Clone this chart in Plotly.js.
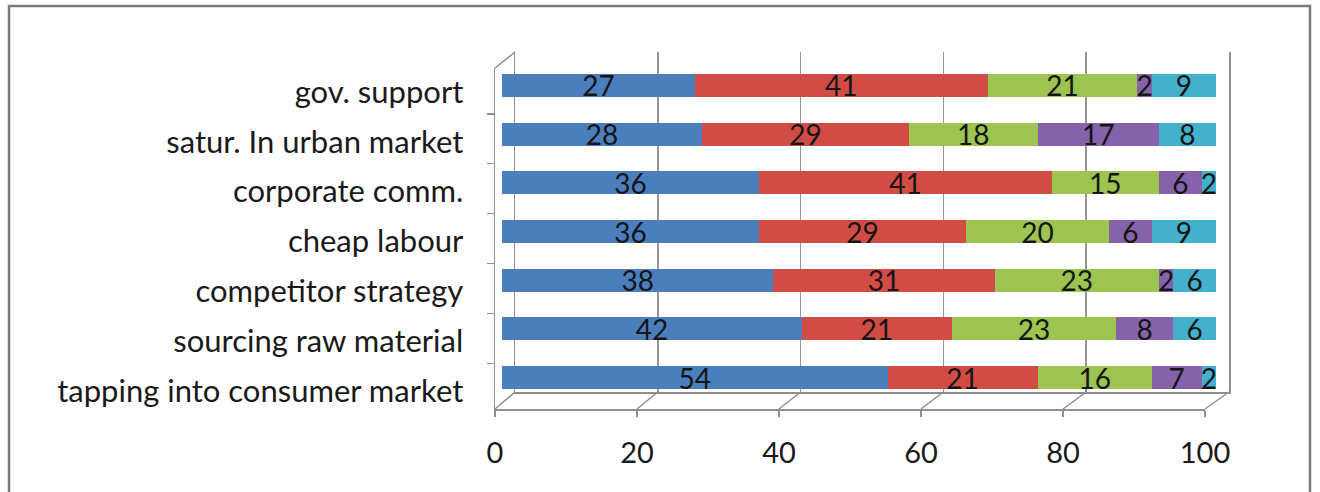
<!DOCTYPE html>
<html>
<head>
<meta charset="utf-8">
<script src="https://cdn.plot.ly/plotly-3.0.1.min.js"></script>
<style>html,body{margin:0;padding:0;background:#fff;}#chart{width:1320px;height:492px;}</style>
</head>
<body>
<div id="chart"></div>
<script>
// ---- data ----
const categories = ["gov. support", "satur. In urban market", "corporate comm.", "cheap labour",
  "competitor strategy", "sourcing raw material", "tapping into consumer market"];
const seriesA = [27, 28, 36, 36, 38, 42, 54];
const seriesB = [41, 29, 41, 29, 31, 21, 21];
const seriesC = [21, 18, 15, 20, 23, 23, 16];
const seriesD = [2, 17, 6, 6, 2, 8, 7];
const seriesE = [9, 8, 2, 9, 6, 6, 2];
const xTickVals = [0, 20, 40, 60, 80, 100];

// ---- layout geometry (pixels) ----
const W = 1320, H = 492;
const px = v => v / W, py = v => 1 - v / H;
const FRONT = {x0: 495, x1: 1205, top: 68, bot: 409};
const BACK = {x0: 515, x1: 1229, top: 52, bot: 392};
const BARS = {x0: 502, x1: 1216, top: 61, bot: 402};

const FONT = "Lato, 'Open Sans', sans-serif";
const colors = ["#4a7ebd", "#d24c46", "#9dc351", "#8562a9", "#43b0cc"];
const series = [seriesA, seriesB, seriesC, seriesD, seriesE];
const names = ["A", "B", "C", "D", "E"];

const traces = [];
// back wall subplot (drawn first, under bars)
traces.push({type: "scatter", x: [0], y: [0], xaxis: "x", yaxis: "y", mode: "markers",
  marker: {opacity: 0}, hoverinfo: "skip", showlegend: false});
series.forEach((s, i) => {
  traces.push({
    type: "bar", orientation: "h", name: names[i],
    x: s, y: categories, xaxis: "x2", yaxis: "y2",
    marker: {color: colors[i], line: {width: 0}},
    text: s.map(String), textposition: "inside", insidetextanchor: "middle",
    textangle: 0, constraintext: "none",
    textfont: {family: FONT, size: 28, color: "#151515"},
    hoverinfo: "x+y", showlegend: false
  });
});
// front axes subplot
traces.push({type: "scatter", x: categories.map(() => 0), y: categories, xaxis: "x3", yaxis: "y3",
  mode: "markers", marker: {opacity: 0}, hoverinfo: "skip", showlegend: false});

const axisGray = "#8f8f8f";
const shapes = [];
const fx = v => FRONT.x0 + (FRONT.x1 - FRONT.x0) * v / 100;
const bx = v => BACK.x0 + (BACK.x1 - BACK.x0) * v / 100;
xTickVals.forEach(v => {
  shapes.push({type: "line", xref: "paper", yref: "paper",
    x0: px(fx(v)), y0: py(FRONT.bot), x1: px(bx(v)), y1: py(BACK.bot),
    line: {color: axisGray, width: 1.5}});
});
shapes.push({type: "line", xref: "paper", yref: "paper",
  x0: px(FRONT.x0), y0: py(FRONT.top), x1: px(BACK.x0), y1: py(BACK.top),
  line: {color: axisGray, width: 1.5}});
// outer frame
shapes.push({type: "rect", xref: "paper", yref: "paper",
  x0: px(9), y0: py(500), x1: px(1310), y1: py(6),
  line: {color: "#7a7a7a", width: 2.5}, fillcolor: "rgba(0,0,0,0)"});

const layout = {
  width: W, height: H, autosize: false,
  margin: {l: 0, r: 0, t: 0, b: 0, pad: 0},
  paper_bgcolor: "#ffffff", plot_bgcolor: "rgba(0,0,0,0)",
  barmode: "stack", bargap: 0.53,
  showlegend: false,
  font: {family: FONT, color: "#1a1a1a"},
  xaxis: {domain: [px(BACK.x0), px(BACK.x1)], range: [0, 100], tickvals: xTickVals,
    showgrid: true, gridcolor: "#959595", gridwidth: 1.6, zeroline: false,
    showline: true, linecolor: axisGray, linewidth: 1.5, showticklabels: false, ticks: "",
    anchor: "y", fixedrange: true},
  yaxis: {domain: [py(BACK.bot), py(BACK.top)], range: [0, 1], showgrid: false, zeroline: false,
    showline: true, mirror: true, linecolor: axisGray, linewidth: 1.5, showticklabels: false,
    ticks: "", anchor: "x", fixedrange: true},
  xaxis2: {domain: [px(BARS.x0), px(BARS.x1)], range: [0, 100], anchor: "y2",
    showgrid: false, zeroline: false, showline: false, showticklabels: false, ticks: "", fixedrange: true},
  yaxis2: {domain: [py(BARS.bot), py(BARS.top)], type: "category", categoryorder: "array",
    categoryarray: categories, autorange: "reversed", anchor: "x2",
    showgrid: false, zeroline: false, showline: false, showticklabels: false, ticks: "", fixedrange: true},
  xaxis3: {domain: [px(FRONT.x0), px(FRONT.x1)], range: [0, 100], anchor: "y3",
    tickmode: "array", tickvals: xTickVals, ticktext: xTickVals.map(String),
    showgrid: false, zeroline: false, showline: true, linecolor: axisGray, linewidth: 1.5,
    ticks: "outside", ticklen: 6, tickcolor: axisGray, tickwidth: 1.5,
    ticklabelstandoff: 12,
    tickfont: {family: FONT, size: 29, color: "#1a1a1a"}, fixedrange: true},
  yaxis3: {domain: [py(FRONT.bot), py(FRONT.top)], type: "category", categoryorder: "array",
    categoryarray: categories, autorange: "reversed", anchor: "x3",
    tickson: "boundaries", ticks: "outside", ticklen: 7, tickcolor: axisGray, tickwidth: 1.5,
    showgrid: false, zeroline: false, showline: true, linecolor: axisGray, linewidth: 1.5,
    ticklabelstandoff: 24, ticklabelshift: -3,
    tickfont: {family: FONT, size: 31, color: "#1a1a1a"}, fixedrange: true},
  shapes: shapes
};

Plotly.newPlot("chart", traces, layout, {displayModeBar: false, staticPlot: true});
</script>
</body>
</html>
